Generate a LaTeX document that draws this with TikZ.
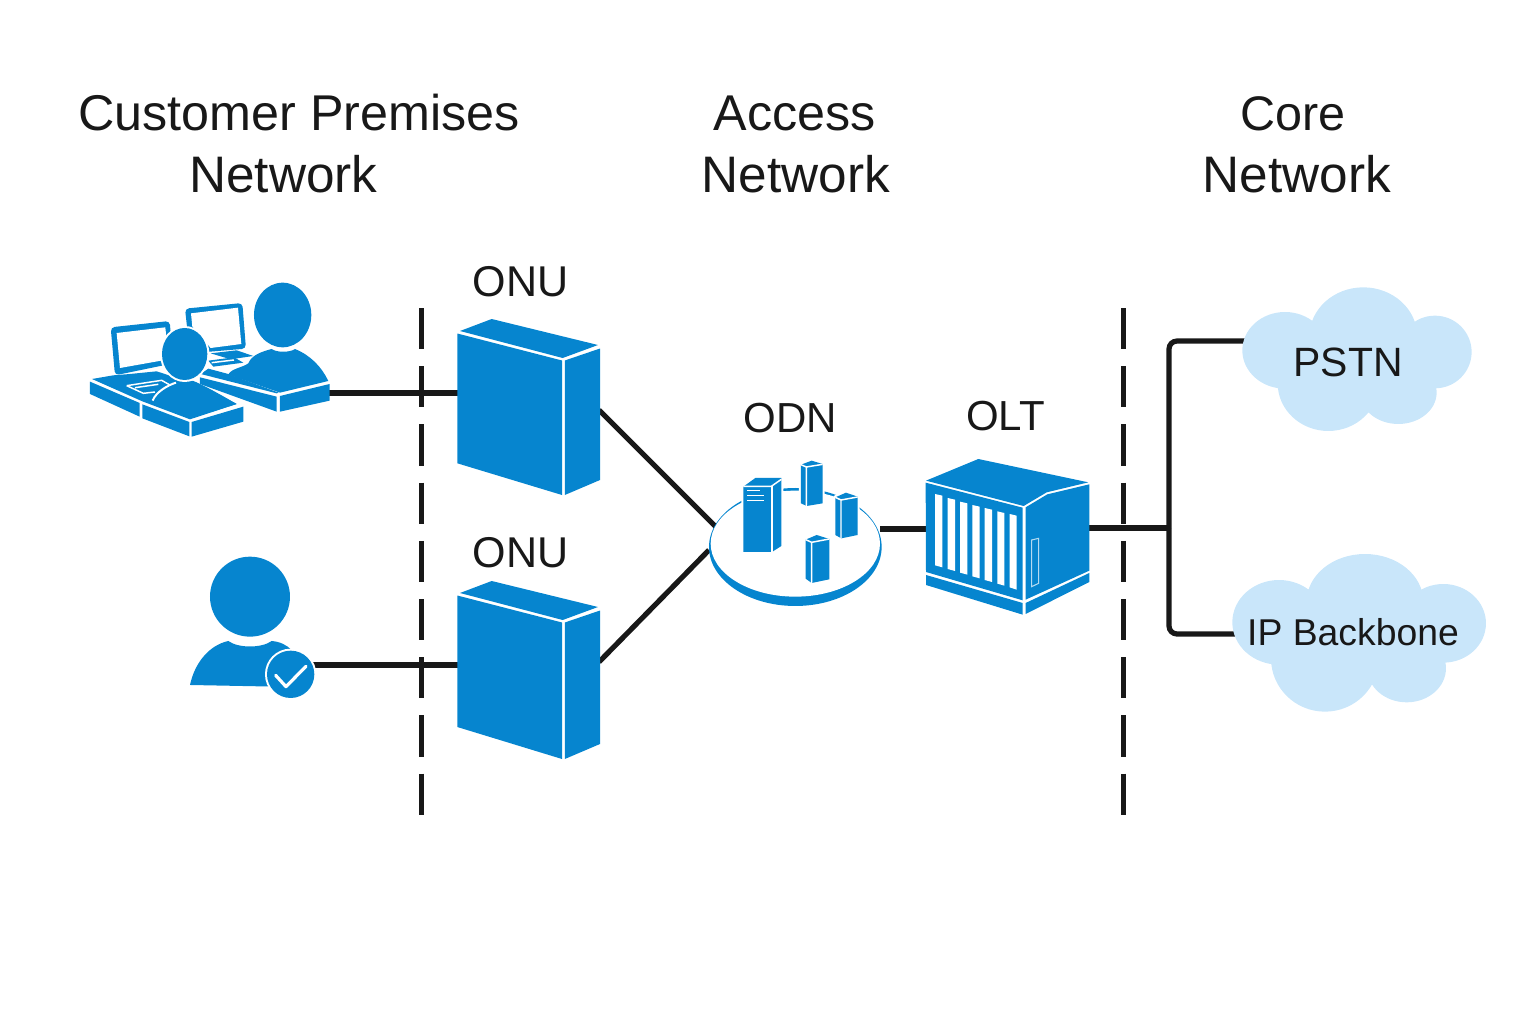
\documentclass[tikz,border=0pt]{standalone}
\usepackage{fontspec}
\setmainfont{Liberation Sans}
\usepackage{xcolor}
\definecolor{devblue}{RGB}{6,133,207}
\definecolor{cloudblue}{RGB}{201,230,250}
\definecolor{wirecol}{RGB}{24,24,24}
\tikzset{
  dev/.style={fill=devblue,draw=none},
  devhalo/.style={fill=devblue,preaction={draw=white,line width=3pt,line join=round}},
  hole/.style={fill=white,draw=none},
  thinwhite/.style={draw=white,line width=1.1pt},
  cloudfill/.style={fill=cloudblue,draw=none},
  wire/.style={draw=wirecol,line width=3.9pt},
  cutline/.style={draw=wirecol,line width=3.2pt,dash pattern=on 30.9pt off 12.75pt},
  heading/.style={anchor=base,inner sep=0pt,text=wirecol,font=\fontsize{37.7pt}{40pt}\selectfont},
  netword/.style={heading,font=\fontsize{38.5pt}{40pt}\selectfont},
  devlabel/.style={anchor=base,inner sep=0pt,text=wirecol,font=\fontsize{31.5pt}{33pt}\selectfont},
}
\begin{document}
\begin{tikzpicture}[x=0.75pt,y=0.75pt,yscale=-1,xscale=1]
\useasboundingbox (0,0) rectangle (1536,1024);

% Ports
\coordinate (deskport) at (329,393);
\coordinate (onuAin) at (458,393);
\coordinate (onuAout) at (599,410);
\coordinate (userport) at (312,665);
\coordinate (onuBin) at (458,665);
\coordinate (onuBout) at (599,662);
\coordinate (odnA) at (716,527);
\coordinate (odnB) at (709,550);
\coordinate (odnout) at (880,529);
\coordinate (oltin) at (927,529);
\coordinate (oltout) at (1088,528);
\coordinate (corejoin) at (1169,528);
\coordinate (pstnport) at (1246,341);
\coordinate (ipport) at (1236,634);
\coordinate (cutAtop) at (421.5,308);
\coordinate (cutAbot) at (421.5,815);
\coordinate (cutBtop) at (1123.5,308);
\coordinate (cutBbot) at (1123.5,815);

%Dashed Lines
\draw [cutline] (cutAtop) -- (cutAbot) ;
\draw [cutline] (cutBtop) -- (cutBbot) ;
%Straight Lines
\draw [wire] (deskport) -- (onuAin) ;
\draw [wire] (userport) -- (onuBin) ;
\draw [wire] (onuAout) -- (odnA) ;
\draw [wire] (onuBout) -- (odnB) ;
\draw [wire] (odnout) -- (oltin) ;
\draw [wire] (oltout) -- (corejoin) ;
\draw [wire,rounded corners=6pt] (pstnport) -| (corejoin) ;
\draw [wire,rounded corners=6pt] (ipport) -| (corejoin) ;

%Shape: Upper ONU
\fill [dev] (491.7,319) -- (598,345) -- (562.7,358) -- (460,331) -- cycle ;
\fill [dev] (457.3,333.5) -- (562,360.5) -- (562,495) -- (457.3,463.3) -- cycle ;
\fill [dev] (564.8,360.5) -- (600,348.5) -- (600,480) -- (564.8,495) -- cycle ;
%Shape: Lower ONU
\fill [dev] (491.7,581) -- (598,607) -- (562.7,620) -- (460,593) -- cycle ;
\fill [dev] (457.3,595.5) -- (562,622.5) -- (562,759) -- (457.3,727) -- cycle ;
\fill [dev] (564.8,622.5) -- (600,610.5) -- (600,744) -- (564.8,759) -- cycle ;

%Shape: Users at their desks
\begin{scope}[shift={(80,270)},scale=0.3333]
% back monitor
\fill [dev,rounded corners=3pt] (315,116) -- (487,99) -- (498,236) -- (330,250) -- cycle ;
\fill [hole] (333,130) -- (474,113) -- (484,222) -- (392,234) -- (337,170) -- cycle ;
% back desk
\fill [dev] (392,250) -- (470,241) -- (520,258) -- (452,268) -- cycle ;
\fill [dev] (385,272) -- (462,262) -- (490,278) -- (400,290) -- cycle ;
\draw [thinwhite] (395,278) -- (462,270) ;
\fill [dev] (362,312) -- (385,296) -- (445,312) -- (596,368) -- (590,370) -- cycle ;
\fill [dev] (360,322) -- (590,380) -- (590,425) -- (360,342) -- cycle ;
\fill [dev] (600,378) -- (749,342) -- (749,392) -- (600,425) -- cycle ;
% back person
\fill [dev] (445,314) .. controls (452,296) and (490,292) .. (505,280) .. controls (515,255) and (545,245) .. (575,237) .. controls (590,248) and (630,248) .. (645,237) .. controls (690,255) and (725,290) .. (745,333) -- (600,368) -- cycle ;
\fill [dev] (608,135) ellipse [x radius=86,y radius=97] ;
% front monitor
\fill [dev,rounded corners=3pt] (92,172) -- (269,153) -- (280,280) -- (105,316) -- cycle ;
\fill [hole] (110,189) -- (256,172) -- (266,268) -- (120,294) -- cycle ;
% front desk
\fill [dev] (36,327) -- (100,316) -- (150,312) -- (230,304) -- (285,322) -- (340,333) -- (470,402) -- (330,448) -- (187,394) -- cycle ;
\fill [dev] (140,347) -- (245,331) -- (275,348) -- (230,366) -- (190,370) -- cycle ;
\draw [thinwhite,line join=round] (140,347) -- (245,331) -- (275,348) (140,347) -- (190,370) -- (225,366) (165,353) -- (235,343) ;
\fill [dev] (30,335) -- (179,399) -- (179,440) -- (30,372) -- cycle ;
\fill [dev] (187,403) -- (328,456) -- (328,499) -- (187,445) -- cycle ;
\fill [dev] (335,456) -- (490,410) -- (490,455) -- (335,500) -- cycle ;
% front person
\fill [dev] (218,392) .. controls (228,365) and (265,345) .. (288,338) .. controls (300,346) and (330,346) .. (345,335) .. controls (390,355) and (440,385) .. (470,402) -- (330,446) -- cycle ;
\draw [white,line width=1.5pt] (218,392) .. controls (228,365) and (265,345) .. (288,338) ;
\fill [devhalo] (314,252) ellipse [x radius=68,y radius=78] ;
\end{scope}

%Shape: User with tick
\begin{scope}[shift={(180,545)},scale=0.3333]
\fill [dev] (210,155) circle [radius=120] ;
\fill [dev] (30,420) .. controls (45,350) and (90,300) .. (145,288) .. controls (175,310) and (245,310) .. (275,288) .. controls (300,290) and (320,300) .. (335,315) -- (290,425) -- cycle ;
\fill [devhalo] (332,388) circle [radius=71] ;
\draw [white,line width=2.4pt,line cap=round,line join=round] (287,391) -- (318,425) -- (378,364) ;
\end{scope}

%Shape: ODN platform
\begin{scope}[shift={(700,440)},scale=0.3333]
\fill [dev] (286,321) ellipse [x radius=259,y radius=177] ;
\fill [white] (286,311) ellipse [x radius=254,y radius=159] ;
% big server
\fill [devhalo] (130,140) -- (166,114) -- (244,114) -- (244,318) -- (216,336) -- (130,336) -- cycle ;
\draw [thinwhite] (130,139) -- (214,139) -- (244,118) ;
\draw [thinwhite] (216,139) -- (216,336) ;
\draw [white,line width=1pt] (141,152) -- (181,152) (141,167) -- (191,167) (141,182) -- (191,182) ;
% column one
\fill [devhalo] (303,74) -- (335,62) -- (368,72) -- (368,190) -- (320,198) -- (303,190) -- cycle ;
\draw [thinwhite] (303,74) -- (319,81) -- (368,73) (319,81) -- (319,198) ;
% column two
\fill [devhalo] (406,172) -- (438,158) -- (473,170) -- (473,285) -- (424,295) -- (406,285) -- cycle ;
\draw [thinwhite] (406,172) -- (423,180) -- (473,171) (423,180) -- (423,295) ;
% column three
\fill [devhalo] (317,299) -- (350,285) -- (388,297) -- (388,418) -- (335,429) -- (317,416) -- cycle ;
\draw [thinwhite] (317,299) -- (335,307) -- (388,297) (335,307) -- (335,429) ;
\end{scope}

%Shape: OLT chassis
\begin{scope}[shift={(915,450)},scale=0.3333]
\fill [dev] (33,92) -- (190,27) -- (520,97) -- (395,127) -- (326,168) -- cycle ;
\fill [dev] (32,98) -- (323,173) -- (323,451) -- (33,366) -- cycle ;
\fill [dev] (33,375) -- (323,459) -- (323,494) -- (33,405) -- cycle ;
\fill [dev] (332,172) -- (397,133) -- (523,103) -- (523,362) -- (332,449) -- cycle ;
\fill [dev] (332,459) -- (523,369) -- (523,396) -- (332,492) -- cycle ;
% slots
\fill [hole] (60,132) -- (82,137) -- (82,352) -- (60,346) -- cycle ;
\fill [hole] (98,144) -- (120,149) -- (120,363) -- (98,357) -- cycle ;
\fill [hole] (135,155) -- (157,160) -- (157,374) -- (135,368) -- cycle ;
\fill [hole] (172,165) -- (194,170) -- (194,385) -- (172,379) -- cycle ;
\fill [hole] (209,174) -- (231,179) -- (231,396) -- (209,390) -- cycle ;
\fill [hole] (247,184) -- (268,189) -- (268,407) -- (247,401) -- cycle ;
\fill [hole] (284,192) -- (305,197) -- (305,419) -- (284,412) -- cycle ;
% door
\draw [draw=white!70!devblue,line width=0.8pt] (350,270) -- (371,265) -- (371,400) -- (350,410) -- cycle ;
\end{scope}

%Shape: PSTN cloud
\begin{scope}[shift={(1150,280)},scale=0.3333]
\fill [cloudfill] (640,170) ellipse [x radius=162,y radius=148] (405,211) ellipse [x radius=128,y radius=115] (855,216) ellipse [x radius=110,y radius=109] (535,310) ellipse [x radius=152,y radius=143] (745,338) ellipse [x radius=115,y radius=94] (640,260) ellipse [x radius=200,y radius=100] ;
\end{scope}
%Shape: IP Backbone cloud
\begin{scope}[shift={(1150,545)},scale=0.3333]
\fill [cloudfill] (645,170) ellipse [x radius=175,y radius=143] (387,232) ellipse [x radius=140,y radius=127] (880,235) ellipse [x radius=128,y radius=118] (525,340) ellipse [x radius=162,y radius=160] (770,370) ellipse [x radius=118,y radius=102] (640,270) ellipse [x radius=220,y radius=110] ;
\end{scope}

% Text Node
\node [heading] (headcpa) at (299,131) {Customer Premises};
\node [netword] (headcpb) at (283.5,192) {Network};
\node [heading] (headana) at (795,131) {Access};
\node [netword] (headanb) at (796,192) {Network};
\node [heading,font=\fontsize{36.4pt}{40pt}\selectfont] (headcna) at (1293,131) {Core};
\node [netword] (headcnb) at (1297,192) {Network};
\node [devlabel,font=\fontsize{32.3pt}{33pt}\selectfont] (onuAlabel) at (520.5,296) {ONU};
\node [devlabel,font=\fontsize{32.3pt}{33pt}\selectfont] (onuBlabel) at (520.5,567) {ONU};
\node [devlabel] (odnlabel) at (790,432) {ODN};
\node [devlabel] (oltlabel) at (1005.5,430) {OLT};
\node [devlabel,font=\fontsize{30.7pt}{32pt}\selectfont] (pstnlabel) at (1348,376) {PSTN};
\node [devlabel,font=\fontsize{28pt}{30pt}\selectfont] (iplabel) at (1353,645) {IP Backbone};
\end{tikzpicture}
\end{document}
